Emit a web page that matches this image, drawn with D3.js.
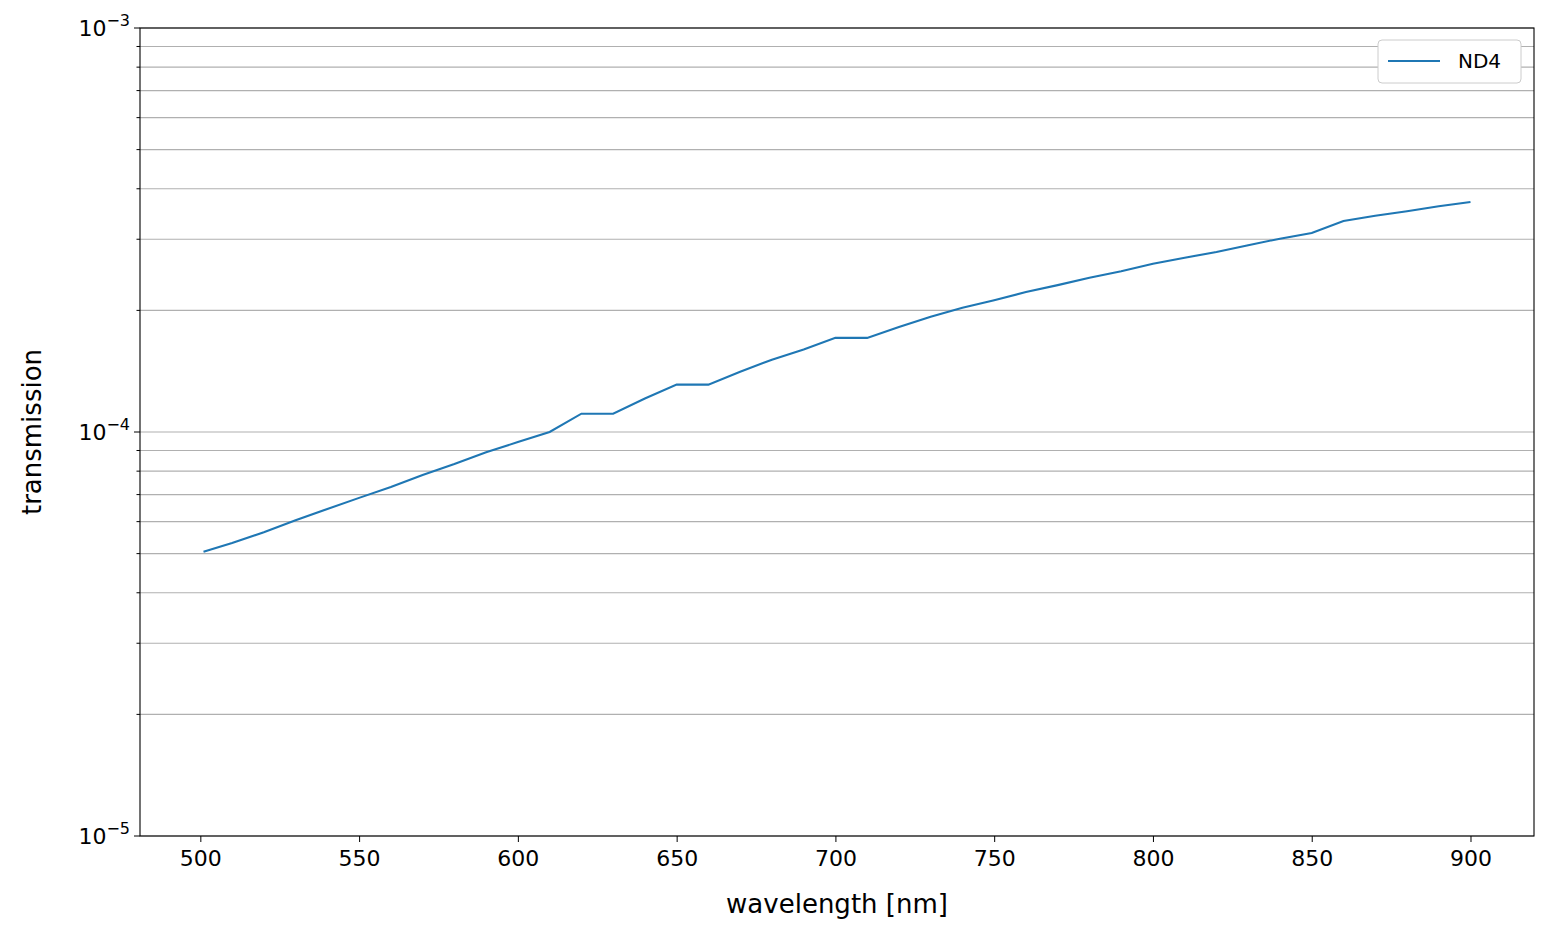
<!DOCTYPE html>
<html><head><meta charset="utf-8">
<script src="https://cdn.jsdelivr.net/npm/d3@7"></script>
<style>body{margin:0;background:#fff}text{font-family:"DejaVu Sans",sans-serif}</style>
</head><body><svg id="c" width="1549" height="935"></svg>
<script>
const wavelength = [501,510,520,530,540,550,560,570,580,590,600,610,620,630,640,650,660,670,680,690,700,710,720,730,740,750,760,770,780,790,800,810,820,830,840,850,860,870,880,890,900];
const transmission = [5.05e-5,5.31e-5,5.65e-5,6.05e-5,6.45e-5,6.87e-5,7.31e-5,7.83e-5,8.33e-5,8.91e-5,9.44e-5,1.0e-4,1.11e-4,1.11e-4,1.21e-4,1.31e-4,1.31e-4,1.41e-4,1.51e-4,1.60e-4,1.71e-4,1.71e-4,1.82e-4,1.93e-4,2.03e-4,2.12e-4,2.22e-4,2.31e-4,2.41e-4,2.50e-4,2.61e-4,2.70e-4,2.79e-4,2.90e-4,3.01e-4,3.11e-4,3.33e-4,3.43e-4,3.52e-4,3.62e-4,3.71e-4];
const xTicks = [500,550,600,650,700,750,800,850,900];
const yMajor = [1e-5,1e-4,1e-3];
const yExp = ["−5","−4","−3"];

const svg = d3.select("#c");
const m = {top:28,right:15,bottom:99,left:140};
const W = 1549, H = 935;
const x = d3.scaleLinear().domain([481,920]).range([m.left, W-m.right]);
const y = d3.scaleLog().domain([1e-5,1e-3]).range([H-m.bottom, m.top]);

const minor = [];
for (let d=1e-5; d<1e-3; d*=10) for (let k=2;k<=9;k++) minor.push(d*k);

// grid
svg.append("g").selectAll("line").data(minor.concat(yMajor)).join("line")
  .attr("x1",m.left).attr("x2",W-m.right).attr("y1",d=>y(d)).attr("y2",d=>y(d))
  .attr("stroke","#b0b0b0").attr("stroke-width",1.1);

// line
svg.append("path").datum(wavelength.map((w,i)=>[w,transmission[i]]))
  .attr("fill","none").attr("stroke","#1f77b4").attr("stroke-width",2.1)
  .attr("d", d3.line().x(d=>x(d[0])).y(d=>y(d[1])));

// frame
svg.append("rect").attr("x",m.left).attr("y",m.top).attr("width",W-m.right-m.left).attr("height",H-m.bottom-m.top)
  .attr("fill","none").attr("stroke","#000").attr("stroke-width",1.1);

// x axis
const xa = svg.append("g").attr("transform",`translate(0,${H-m.bottom})`)
  .call(d3.axisBottom(x).tickValues(xTicks).tickSize(6).tickPadding(8));
xa.select(".domain").remove();
xa.selectAll("text").style("font-size","22px").style("font-family","DejaVu Sans").attr("fill","#000");

// y axis
const ya = svg.append("g").attr("transform",`translate(${m.left},0)`);
ya.selectAll("line.mi").data(minor).join("line").attr("x1",-3.5).attr("x2",0)
  .attr("y1",d=>y(d)).attr("y2",d=>y(d)).attr("stroke","#000");
ya.selectAll("line.ma").data(yMajor).join("line").attr("x1",-6).attr("x2",0)
  .attr("y1",d=>y(d)).attr("y2",d=>y(d)).attr("stroke","#000");
const lbl = ya.selectAll("text").data(yMajor).join("text")
  .attr("x",-10).attr("y",d=>y(d)+8).attr("text-anchor","end").style("font-size","22px");
lbl.append("tspan").text("10");
lbl.append("tspan").attr("dy",-10).style("font-size","16px").text((d,i)=>yExp[i]);

// axis titles
svg.append("text").attr("x",(m.left+W-m.right)/2).attr("y",913).attr("text-anchor","middle")
  .style("font-size","26px").text("wavelength [nm]");
svg.append("text").attr("transform",`translate(41,${(m.top+H-m.bottom)/2}) rotate(-90)`)
  .attr("text-anchor","middle").style("font-size","26px").text("transmission");

// legend
const lg = svg.append("g").attr("transform","translate(1378,40)");
lg.append("rect").attr("width",143).attr("height",43).attr("rx",4).attr("fill","#fff")
  .attr("stroke","#ccc");
lg.append("line").attr("x1",10).attr("x2",62).attr("y1",21).attr("y2",21)
  .attr("stroke","#1f77b4").attr("stroke-width",2.1);
lg.append("text").attr("x",80).attr("y",28).style("font-size","20px").text("ND4");
</script></body></html>
